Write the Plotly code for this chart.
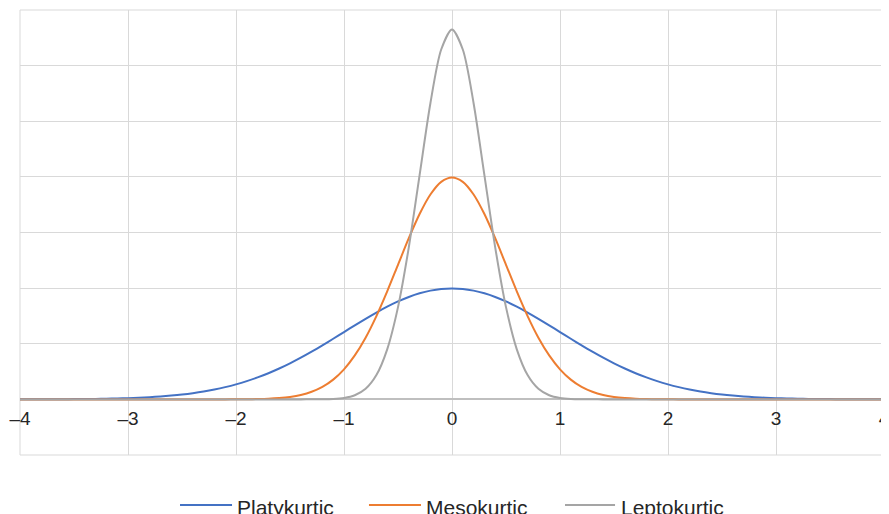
import plotly.graph_objects as go

x_values = [round(-4 + 0.1 * i, 1) for i in range(81)]

platykurtic = [
    0.0001, 0.0002, 0.0003, 0.0004, 0.0006, 0.0009, 0.0012, 0.0017, 0.0024, 0.0033,
    0.0044, 0.0060, 0.0079, 0.0104, 0.0136, 0.0175, 0.0224, 0.0283, 0.0355, 0.0440,
    0.0540, 0.0656, 0.0790, 0.0940, 0.1109, 0.1295, 0.1497, 0.1714, 0.1942, 0.2179,
    0.2420, 0.2661, 0.2897, 0.3123, 0.3332, 0.3521, 0.3683, 0.3814, 0.3910, 0.3970,
    0.3989,
    0.3970, 0.3910, 0.3814, 0.3683, 0.3521, 0.3332, 0.3123, 0.2897, 0.2661, 0.2420,
    0.2179, 0.1942, 0.1714, 0.1497, 0.1295, 0.1109, 0.0940, 0.0790, 0.0656, 0.0540,
    0.0440, 0.0355, 0.0283, 0.0224, 0.0175, 0.0136, 0.0104, 0.0079, 0.0060, 0.0044,
    0.0033, 0.0024, 0.0017, 0.0012, 0.0009, 0.0006, 0.0004, 0.0003, 0.0002, 0.0001,
]

mesokurtic = [
    0, 0, 0, 0, 0, 0, 0, 0, 0, 0,
    0, 0, 0, 0, 0, 0, 0, 0, 0, 0,
    0.0003, 0.0005, 0.0012, 0.0024, 0.0048, 0.0089, 0.0158, 0.0272, 0.0448, 0.0710,
    0.1080, 0.1580, 0.2218, 0.2995, 0.3884, 0.4839, 0.5794, 0.6664, 0.7366, 0.7821,
    0.7979,
    0.7821, 0.7366, 0.6664, 0.5794, 0.4839, 0.3884, 0.2995, 0.2218, 0.1580, 0.1080,
    0.0710, 0.0448, 0.0272, 0.0158, 0.0089, 0.0048, 0.0024, 0.0012, 0.0005, 0.0003,
    0, 0, 0, 0, 0, 0, 0, 0, 0, 0,
    0, 0, 0, 0, 0, 0, 0, 0, 0, 0,
]

leptokurtic = [
    0, 0, 0, 0, 0, 0, 0, 0, 0, 0,
    0, 0, 0, 0, 0, 0, 0, 0, 0, 0,
    0, 0, 0, 0, 0, 0, 0, 0.0001, 0.0004, 0.0016,
    0.0051, 0.0148, 0.0380, 0.0874, 0.1800, 0.3316, 0.5467, 0.8066, 1.0648, 1.2579,
    1.3298,
    1.2579, 1.0648, 0.8066, 0.5467, 0.3316, 0.1800, 0.0874, 0.0380, 0.0148, 0.0051,
    0.0016, 0.0004, 0.0001, 0, 0, 0, 0, 0, 0, 0,
    0, 0, 0, 0, 0, 0, 0, 0, 0, 0,
    0, 0, 0, 0, 0, 0, 0, 0, 0, 0,
]

series_names = ["Platykurtic", "Mesokurtic", "Leptokurtic"]
series_colors = ["#4472C4", "#ED7D31", "#A5A5A5"]

x_tick_vals = [-4, -3, -2, -1, 0, 1, 2, 3, 4]
x_tick_text = ["–4", "–3", "–2", "–1", "0", "1", "2", "3", "4"]
y_tick_vals = [-0.2, 0, 0.2, 0.4, 0.6, 0.8, 1.0, 1.2, 1.4]

# custom bottom legend placement (paper fractions)
legend_line_x0 = [0.1852, 0.4039, 0.6308]
legend_line_x1 = [0.2454, 0.4641, 0.6887]
legend_text_x = [0.2512, 0.4699, 0.6956]
legend_y = -0.1124

W, H = 881, 506  # the page adds an 8px body margin

fig = go.Figure()
for name, ys, col in zip(series_names, [platykurtic, mesokurtic, leptokurtic], series_colors):
    fig.add_trace(go.Scatter(
        x=x_values, y=ys, name=name, mode="lines",
        line=dict(color=col, width=2, shape="spline", smoothing=0.8),
        showlegend=False,
    ))

grid = "#d9d9d9"
shapes = [dict(type="rect", xref="x domain", yref="y domain", x0=0, x1=1, y0=0, y1=1,
               line=dict(color=grid, width=1), layer="below")]
annotations = []
for i, (name, col) in enumerate(zip(series_names, series_colors)):
    shapes.append(dict(type="line", xref="paper", yref="paper",
                       x0=legend_line_x0[i], x1=legend_line_x1[i], y0=legend_y, y1=legend_y,
                       line=dict(color=col, width=2)))
    annotations.append(dict(text=name, xref="paper", yref="paper", x=legend_text_x[i], y=legend_y,
                            xanchor="left", yanchor="middle", showarrow=False,
                            font=dict(size=21, color="#262626"), xshift=-2, yshift=-2))

fig.update_layout(
    width=W, height=H,
    margin=dict(l=12, r=5, t=2, b=59, autoexpand=False),
    paper_bgcolor="white", plot_bgcolor="white",
    font=dict(family="Liberation Sans, Arial, sans-serif", color="#262626", size=19),
    showlegend=False,
    shapes=shapes, annotations=annotations,
    xaxis=dict(
        range=[-4, 4], tickmode="array", tickvals=x_tick_vals, ticktext=x_tick_text,
        showgrid=True, gridcolor=grid, gridwidth=1,
        zeroline=False, showline=False, ticks="",
        anchor="free", position=0.125, ticklabelstandoff=6,
        ticklabeloverflow="allow",
        tickfont=dict(size=19, color="#262626"),
    ),
    yaxis=dict(
        range=[-0.2, 1.4], tickmode="array", tickvals=y_tick_vals,
        showticklabels=False, showgrid=True, gridcolor=grid, gridwidth=1,
        zeroline=True, zerolinecolor="#bfbfbf", zerolinewidth=1.5,
        showline=False, ticks="",
    ),
)

fig.write_html("out.html")
